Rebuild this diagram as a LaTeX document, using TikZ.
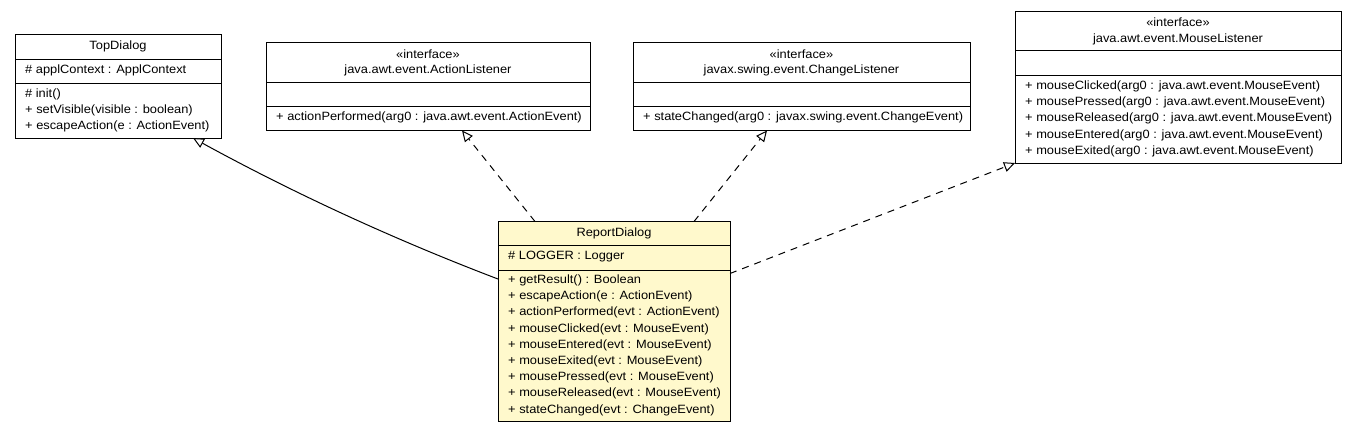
\documentclass[tikz,border=0pt]{standalone}
\usepackage{fontspec}
\newfontfamily\umlfont{Liberation Sans}[FakeStretch=1.07]
\usetikzlibrary{arrows.meta,calc}
\definecolor{rdfill}{HTML}{FFF9CC}
\begin{document}
\begin{tikzpicture}[x=1pt,y=-1pt,
  cls/.style={draw=black, line width=1pt, inner sep=0pt, outer sep=0pt, anchor=north west, fill=white},
  mem/.style={inner sep=0pt, anchor=base west, font=\umlfont\fontsize{12}{16}\selectfont},
  ttl/.style={inner sep=0pt, anchor=base, font=\umlfont\fontsize{12}{16}\selectfont},
  sep/.style={line width=1pt},
  inh/.style={line width=1pt, -{Triangle[open, length=11pt, width=10pt, fill=white]}},
  impl/.style={inh, dash pattern=on 7pt off 6pt}]
\useasboundingbox (0,0) rectangle (1357,432);

% ---------- TopDialog ----------
\node[cls, minimum width=206pt, minimum height=104pt] (td) at (15,34) {};
\draw[sep] ($(td.north west)+(0,25)$) -- ($(td.north east)+(0,25)$);
\draw[sep] ($(td.north west)+(0,49)$) -- ($(td.north east)+(0,49)$);
\node[ttl] (tdn) at ($(td.north)+(0,15.5)$) {TopDialog};
\node[mem] (tda) at ($(td.north west)+(10,39.5)$) {\# applContext : ApplContext};
\node[mem] (tdm1) at ($(td.north west)+(10,63.5)$) {\# init()};
\node[mem] (tdm2) at ($(td.north west)+(10,79.7)$) {+ setVisible(visible : boolean)};
\node[mem] (tdm3) at ($(td.north west)+(10,95.9)$) {+ escapeAction(e : ActionEvent)};

% ---------- ActionListener ----------
\node[cls, minimum width=324pt, minimum height=88pt] (al) at (266,42.5) {};
\draw[sep] ($(al.north west)+(0,40)$) -- ($(al.north east)+(0,40)$);
\draw[sep] ($(al.north west)+(0,63.5)$) -- ($(al.north east)+(0,63.5)$);
\node[ttl] (als) at ($(al.north)+(0,15.5)$) {«interface»};
\node[ttl] (aln) at ($(al.north)+(0,31)$) {java.awt.event.ActionListener};
\node[mem] (alm) at ($(al.north west)+(10,77.5)$) {+ actionPerformed(arg0 : java.awt.event.ActionEvent)};

% ---------- ChangeListener ----------
\node[cls, minimum width=337pt, minimum height=88pt] (cl) at (633,42.5) {};
\draw[sep] ($(cl.north west)+(0,40)$) -- ($(cl.north east)+(0,40)$);
\draw[sep] ($(cl.north west)+(0,63.5)$) -- ($(cl.north east)+(0,63.5)$);
\node[ttl] (cls) at ($(cl.north)+(0,15.5)$) {«interface»};
\node[ttl] (cln) at ($(cl.north)+(0,31)$) {javax.swing.event.ChangeListener};
\node[mem] (clm) at ($(cl.north west)+(10,77.5)$) {+ stateChanged(arg0 : javax.swing.event.ChangeEvent)};

% ---------- MouseListener ----------
\node[cls, minimum width=326pt, minimum height=152pt] (ml) at (1015,11) {};
\draw[sep] ($(ml.north west)+(0,39.5)$) -- ($(ml.north east)+(0,39.5)$);
\draw[sep] ($(ml.north west)+(0,64)$) -- ($(ml.north east)+(0,64)$);
\node[ttl] (mls) at ($(ml.north)+(0,15.5)$) {«interface»};
\node[ttl] (mln) at ($(ml.north)+(0,31)$) {java.awt.event.MouseListener};
\node[mem] (mlm1) at ($(ml.north west)+(10,78.5)$) {+ mouseClicked(arg0 : java.awt.event.MouseEvent)};
\node[mem] (mlm2) at ($(ml.north west)+(10,94.7)$) {+ mousePressed(arg0 : java.awt.event.MouseEvent)};
\node[mem] (mlm3) at ($(ml.north west)+(10,110.9)$) {+ mouseReleased(arg0 : java.awt.event.MouseEvent)};
\node[mem] (mlm4) at ($(ml.north west)+(10,127.1)$) {+ mouseEntered(arg0 : java.awt.event.MouseEvent)};
\node[mem] (mlm5) at ($(ml.north west)+(10,143.3)$) {+ mouseExited(arg0 : java.awt.event.MouseEvent)};

% ---------- ReportDialog ----------
\node[cls, fill=rdfill, minimum width=232pt, minimum height=199.5pt] (rd) at (498,221.5) {};
\draw[sep] ($(rd.north west)+(0,24)$) -- ($(rd.north east)+(0,24)$);
\draw[sep] ($(rd.north west)+(0,48.5)$) -- ($(rd.north east)+(0,48.5)$);
\node[ttl] (rdn) at ($(rd.north)+(0,15)$) {ReportDialog};
\node[mem] (rda) at ($(rd.north west)+(10,38)$) {\# LOGGER : Logger};
\node[mem] (rdm1) at ($(rd.north west)+(10,62)$) {+ getResult() : Boolean};
\node[mem] (rdm2) at ($(rd.north west)+(10,78.2)$) {+ escapeAction(e : ActionEvent)};
\node[mem] (rdm3) at ($(rd.north west)+(10,94.4)$) {+ actionPerformed(evt : ActionEvent)};
\node[mem] (rdm4) at ($(rd.north west)+(10,110.6)$) {+ mouseClicked(evt : MouseEvent)};
\node[mem] (rdm5) at ($(rd.north west)+(10,126.8)$) {+ mouseEntered(evt : MouseEvent)};
\node[mem] (rdm6) at ($(rd.north west)+(10,143)$) {+ mouseExited(evt : MouseEvent)};
\node[mem] (rdm7) at ($(rd.north west)+(10,159.2)$) {+ mousePressed(evt : MouseEvent)};
\node[mem] (rdm8) at ($(rd.north west)+(10,175.4)$) {+ mouseReleased(evt : MouseEvent)};
\node[mem] (rdm9) at ($(rd.north west)+(10,191.6)$) {+ stateChanged(evt : ChangeEvent)};

% ---------- connectors ----------
\draw[inh] ($(rd.north west)+(0,57.5)$) .. controls (396.3,240.3) and (294.7,193.7) .. ($(td.south west)+(178,0)$);
\draw[impl] ($(rd.north west)+(37,0)$) -- ($(al.south west)+(196,0)$);
\draw[impl] ($(rd.north west)+(196,0)$) -- ($(cl.south west)+(134,0)$);
\draw[impl] ($(rd.north east)+(0,52)$) -- (ml.south west);
\end{tikzpicture}
\end{document}
